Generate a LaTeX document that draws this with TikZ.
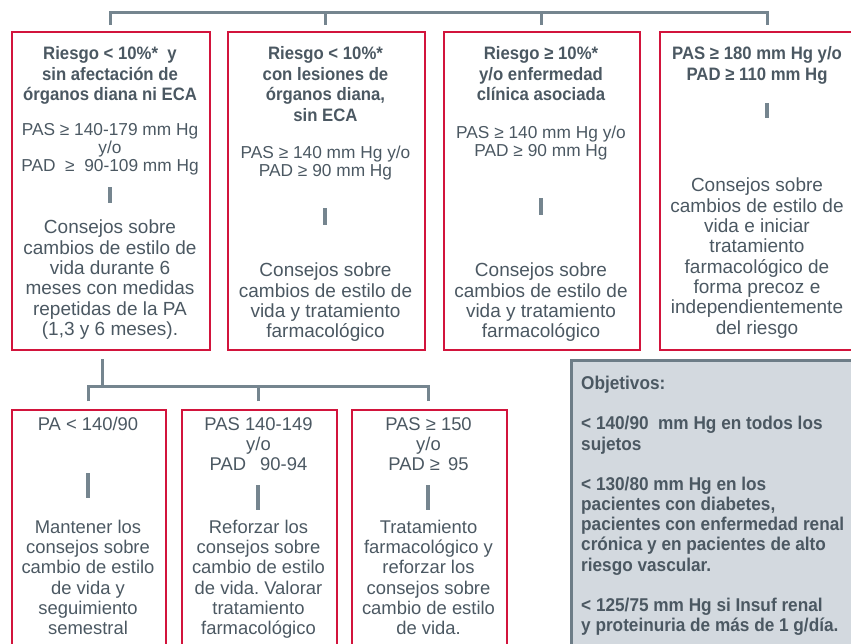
\documentclass[tikz,border=0pt]{standalone}
\usepackage{fontspec}
\setmainfont{Liberation Sans}
\newfontfamily\condfont[FakeStretch=0.93]{Liberation Sans}
\definecolor{boxred}{HTML}{D2143C}
\definecolor{txtgrey}{HTML}{4B5862}
\definecolor{linkgrey}{HTML}{75858F}
\definecolor{panelfill}{HTML}{D3D9DF}
\definecolor{panelline}{HTML}{6D7D87}
\frenchspacing
\begin{document}
\begin{tikzpicture}[x=1pt,y=-1pt,line join=miter]
	\tikzset{riskbox/.style={draw=boxred,line width=2pt,inner sep=0pt,anchor=north west},
		txt/.style={anchor=north,align=center,inner sep=0pt,text=txtgrey},
		head/.style={txt,font=\condfont\bfseries\fontsize{18}{20.8}\selectfont},
		cond/.style={txt,font=\fontsize{17.3}{18}\selectfont},
		advice/.style={txt,font=\fontsize{19}{20.3}\selectfont},
		low/.style={txt,font=\fontsize{18.4}{20.2}\selectfont},
		link/.style={draw=linkgrey,line width=3pt},
		bar/.style={draw=linkgrey,line width=4pt}}
	\useasboundingbox (0,0) rectangle (851,643);
	\clip (0,0) rectangle (851,643);
	% upper row
	\node[riskbox,minimum width=198pt,minimum height=318pt] (b1) at (11,31) {};
	\node[riskbox,minimum width=197pt,minimum height=318pt] (b2) at (227,31) {};
	\node[riskbox,minimum width=196pt,minimum height=318pt] (b3) at (443,31) {};
	\node[riskbox,minimum width=198pt,minimum height=318pt] (b4) at (659,31) {};
	\node[head] (b1h) at (110,46) {Riesgo < 10\%*~~y\\sin afectación de\\órganos diana ni ECA};
	\node[cond] (b1c) at (110,123) {PAS ≥ 140-179 mm Hg\\y/o\\PAD ~≥~ 90-109 mm Hg};
	\draw[bar] (110,187) -- (110,203);
	\node[advice] (b1a) at (110,220) {Consejos sobre\\cambios de estilo de\\vida durante 6\\meses con medidas\\repetidas de la PA\\(1,3 y 6 meses).};
	\node[head] (b2h) at (325.5,46) {Riesgo < 10\%*\\con lesiones de\\órganos diana,\\sin ECA};
	\node[cond] (b2c) at (325.5,146) {PAS ≥ 140 mm Hg y/o\\PAD ≥ 90 mm Hg};
	\draw[bar] (325,208) -- (325,225);
	\node[advice] (b2a) at (325.5,263) {Consejos sobre\\cambios de estilo de\\vida y tratamiento\\farmacológico};
	\node[head] (b3h) at (541,46) {Riesgo ≥ 10\%*\\y/o enfermedad\\clínica asociada};
	\node[cond] (b3c) at (541,126) {PAS ≥ 140 mm Hg y/o\\PAD ≥ 90 mm Hg};
	\draw[bar] (541,198) -- (541,215);
	\node[advice] (b3a) at (541,263) {Consejos sobre\\cambios de estilo de\\vida y tratamiento\\farmacológico};
	\node[head] (b4h) at (757,46) {PAS ≥ 180 mm Hg y/o\\PAD ≥ 110 mm Hg};
	\draw[bar] (767,103) -- (767,118);
	\node[advice] (b4a) at (757,178) {Consejos sobre\\cambios de estilo de\\vida e iniciar\\tratamiento\\farmacológico de\\forma precoz e\\independientemente\\del riesgo};
	% lower row
	\node[riskbox,minimum width=154pt,minimum height=260pt] (c1) at (11,409) {};
	\node[riskbox,minimum width=155pt,minimum height=260pt] (c2) at (181,409) {};
	\node[riskbox,minimum width=155pt,minimum height=260pt] (c3) at (351,409) {};
	\node[low] (c1p) at (88,417) {PA < 140/90};
	\draw[bar] (88,473) -- (88,498);
	\node[low] (c1a) at (88,520) {Mantener los\\consejos sobre\\cambio de estilo\\de vida y\\seguimiento\\semestral};
	\node[low] (c2p) at (258.5,417) {PAS 140-149\\y/o\\PAD\hspace{14pt}90-94};
	\draw[bar] (258,485) -- (258,510);
	\node[low] (c2a) at (258.5,520) {Reforzar los\\consejos sobre\\cambio de estilo\\de vida. Valorar\\tratamiento\\farmacológico};
	\node[low] (c3p) at (428.5,417) {PAS ≥ 150\\y/o\\PAD ≥\hspace{8pt}95};
	\draw[bar] (428,485) -- (428,510);
	\node[low] (c3a) at (428.5,520) {Tratamiento\\farmacológico y\\reforzar los\\consejos sobre\\cambio de estilo\\de vida.};
	% objetivos
	\node[draw=panelline,fill=panelfill,line width=2.5pt,inner sep=0pt,anchor=north west,minimum width=300pt,minimum height=300pt] (goal) at (570,359) {};
	\node[anchor=north west,align=left,inner sep=0pt,text=txtgrey,font=\condfont\bfseries\fontsize{18.5}{20.2}\selectfont] (goaltxt) at (581,376) {Objetivos:\\[20pt]< 140/90~~mm Hg en todos los\\sujetos\\[20pt]< 130/80 mm Hg en los\\pacientes con diabetes,\\pacientes con enfermedad renal\\crónica y en pacientes de alto\\riesgo vascular.\\[20pt]< 125/75 mm Hg si Insuf renal\\y proteinuria de más de 1 g/día.};
	% connectors
	\coordinate (t1) at (110,25);
	\coordinate (t2) at (325,25);
	\coordinate (t3) at (541,25);
	\coordinate (t4) at (767,25);
	\draw[link] (t1) -- ++(0,-13) -| (t4);
	\foreach \k in {t2,t3}{
			\draw[link] (\k) -- ++(0,-13);
		}
	\coordinate (s1) at (102,359);
	\coordinate (u1) at (88,401);
	\coordinate (u2) at (258,401);
	\coordinate (u3) at (428,401);
	\draw[link] (s1) -- ++(0,27);
	\draw[link] (u1) -- ++(0,-15) -| (u3);
	\draw[link] (u2) -- ++(0,-15);
\end{tikzpicture}
\end{document}
